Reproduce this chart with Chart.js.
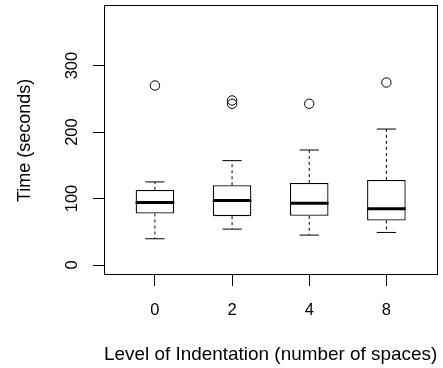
<!DOCTYPE html>
<html>
<head>
<meta charset="utf-8">
<style>
html,body{margin:0;padding:0;background:#fff;}
canvas{display:block;}
</style>
<script src="https://cdn.jsdelivr.net/npm/chart.js@4/dist/chart.umd.min.js"></script>
</head>
<body>
<canvas id="c" width="443" height="368"></canvas>
<script>
// ---- data ----
const categories = ['0', '2', '4', '8'];
const lowerWhisker = [39.5, 54, 45, 49];
const q1 = [77.5, 73.5, 74, 67];
const median = [94, 97, 93, 84.5];
const q3 = [113, 120, 123.5, 128];
const upperWhisker = [125, 157, 173, 204.5];
const outliers = [[270], [247.5, 242.5], [242.5], [274.5]];
const yTicks = [0, 100, 200, 300];
const xTitle = 'Level of Indentation (number of spaces)';
const yTitle = 'Time (seconds)';

const FONT = '"Liberation Sans", Arial, Helvetica, sans-serif';
const positions = categories.map((c, i) => i + 1);

const boxData = positions.map((x, i) => ({x: x, y: [q1[i], q3[i]]}));
const outlierData = [];
outliers.forEach((arr, i) => arr.forEach(v => outlierData.push({x: positions[i], y: v})));

const BOX_HALF = 0.25, STAPLE_HALF = 0.125;

const boxPlugin = {
  id: 'boxExtras',
  afterDatasetsDraw(chart) {
    const ctx = chart.ctx, xs = chart.scales.x, ys = chart.scales.y;
    ctx.save();
    ctx.strokeStyle = '#000';
    positions.forEach((x, i) => {
      const cx = xs.getPixelForValue(x);
      // whiskers (dashed)
      ctx.lineWidth = 1;
      ctx.setLineDash([3, 3]);
      ctx.beginPath();
      ctx.moveTo(cx, ys.getPixelForValue(q3[i]));
      ctx.lineTo(cx, ys.getPixelForValue(upperWhisker[i]));
      ctx.moveTo(cx, ys.getPixelForValue(q1[i]));
      ctx.lineTo(cx, ys.getPixelForValue(lowerWhisker[i]));
      ctx.stroke();
      ctx.setLineDash([]);
      // staples
      const sl = xs.getPixelForValue(x - STAPLE_HALF), sr = xs.getPixelForValue(x + STAPLE_HALF);
      ctx.beginPath();
      [upperWhisker[i], lowerWhisker[i]].forEach(v => {
        const y = ys.getPixelForValue(v);
        ctx.moveTo(sl, y); ctx.lineTo(sr, y);
      });
      ctx.stroke();
      // median
      ctx.lineWidth = 3;
      ctx.beginPath();
      const my = ys.getPixelForValue(median[i]);
      ctx.moveTo(xs.getPixelForValue(x - BOX_HALF), my);
      ctx.lineTo(xs.getPixelForValue(x + BOX_HALF), my);
      ctx.stroke();
    });
    ctx.restore();
  },
  afterDraw(chart) {
    const ctx = chart.ctx, a = chart.chartArea, ys = chart.scales.y;
    ctx.save();
    // plot box
    ctx.strokeStyle = '#000';
    ctx.lineWidth = 1;
    ctx.strokeRect(Math.round(a.left) + 0.5, Math.round(a.top) - 0.5,
                   Math.round(a.right) - Math.round(a.left), Math.round(a.bottom) - Math.round(a.top));
    // rotated y tick labels (R style)
    ctx.fillStyle = '#000';
    ctx.font = '16.5px ' + FONT;
    ctx.textAlign = 'center';
    ctx.textBaseline = 'alphabetic';
    yTicks.forEach(v => {
      const y = ys.getPixelForValue(v);
      ctx.save();
      ctx.translate(77, y);
      ctx.rotate(-Math.PI / 2);
      ctx.fillText(String(v), 0, 0);
      ctx.restore();
    });
    ctx.restore();
  }
};

new Chart(document.getElementById('c'), {
  type: 'bar',
  data: {
    datasets: [
      {
        type: 'bar',
        data: boxData,
        backgroundColor: '#fff',
        borderColor: '#000',
        borderWidth: 1.3,
        borderSkipped: false,
        categoryPercentage: 1.0,
        barPercentage: 0.5,
        order: 2
      },
      {
        type: 'scatter',
        data: outlierData,
        pointStyle: 'circle',
        pointRadius: 4.7,
        pointBorderWidth: 1,
        pointBorderColor: '#000',
        pointBackgroundColor: 'rgba(0,0,0,0)',
        showLine: false,
        order: 1
      }
    ]
  },
  plugins: [boxPlugin],
  options: {
    responsive: false,
    devicePixelRatio: 1,
    animation: false,
    layout: {padding: {left: 0, top: 5, right: 1, bottom: 0}},
    plugins: {legend: {display: false}, tooltip: {enabled: false}},
    scales: {
      x: {
        type: 'linear',
        min: 0.34,
        max: 4.66,
        offset: false,
        afterBuildTicks(scale) { scale.ticks = positions.map(v => ({value: v})); },
        afterFit(scale) { scale.height = 93; },
        grid: {offset: false, drawOnChartArea: false, drawTicks: true, tickLength: 11, color: '#000', lineWidth: 1},
        border: {display: false},
        ticks: {
          padding: 15,
          color: '#000',
          font: {family: FONT, size: 16.5},
          maxRotation: 0, minRotation: 0, autoSkip: false,
          callback(value) { const i = positions.indexOf(value); return i >= 0 ? categories[i] : ''; }
        },
        title: {display: true, text: xTitle, color: '#000', font: {family: FONT, size: 19}, padding: {top: 0, bottom: 2.2}}
      },
      y: {
        type: 'linear',
        min: -15,
        max: 390,
        afterBuildTicks(scale) { scale.ticks = yTicks.map(v => ({value: v})); },
        afterFit(scale) { scale.width = 104; },
        grid: {drawOnChartArea: false, drawTicks: true, tickLength: 11, color: '#000', lineWidth: 1},
        border: {display: false},
        ticks: {display: false},
        title: {display: true, text: yTitle, color: '#000', font: {family: FONT, size: 18}, padding: {top: 14.5, bottom: 0}}
      }
    }
  }
});
</script>
</body>
</html>
